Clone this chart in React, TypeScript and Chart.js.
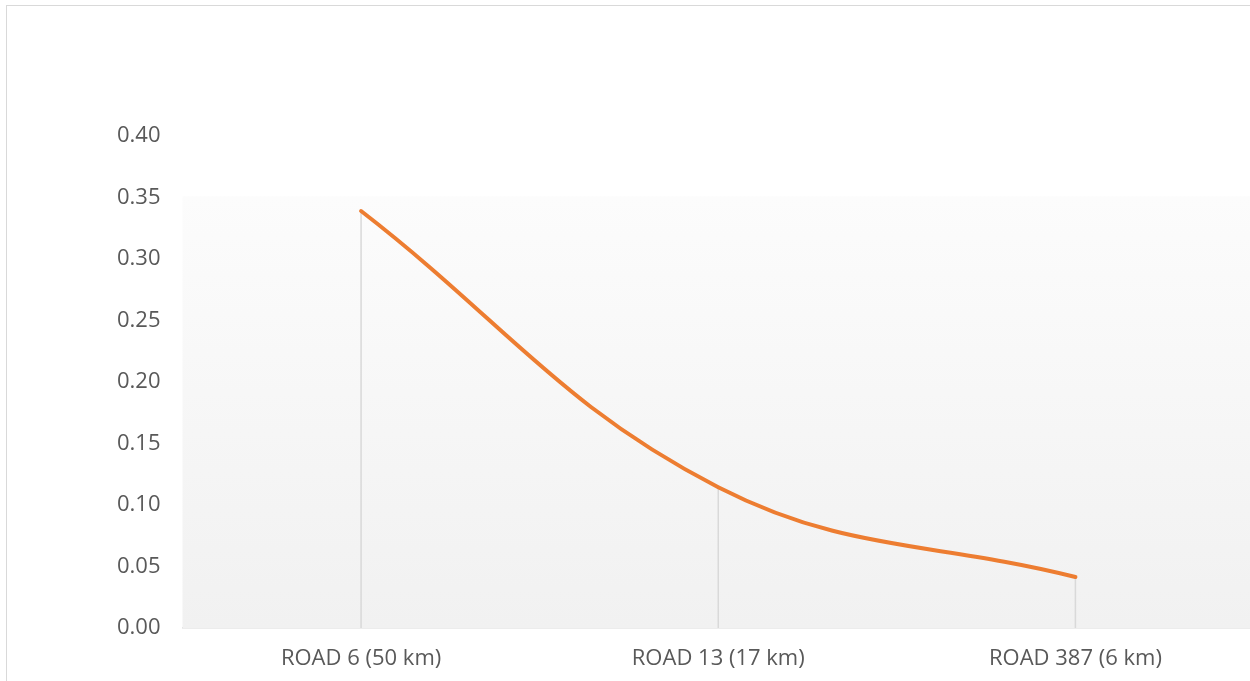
import React, { useEffect, useRef } from "react";
import { Chart, registerables } from "chart.js";

Chart.register(...registerables);

const categories: string[] = ["ROAD 6 (50 km)", "ROAD 13 (17 km)", "ROAD 387 (6 km)"];
const seriesValues: number[] = [0.339, 0.1145, 0.0415];
const yTickStep = 0.05;
const yMax = 0.4;

const dropLinesPlugin = {
  id: "dropLines",
  beforeDatasetsDraw(chart: any) {
    const { ctx, chartArea } = chart;
    const meta = chart.getDatasetMeta(0);
    const yScale = chart.scales.y;
    ctx.save();
    // plot area gradient
    const gTop = yScale.getPixelForValue(0.351);
    const grad = ctx.createLinearGradient(0, gTop, 0, chartArea.bottom);
    grad.addColorStop(0, "#fcfcfc");
    grad.addColorStop(1, "#f1f1f1");
    ctx.fillStyle = grad;
    ctx.fillRect(chartArea.left, gTop, chartArea.right - chartArea.left, chartArea.bottom - gTop);
    // drop lines
    ctx.strokeStyle = "#d9d9d9";
    ctx.lineWidth = 1.5;
    meta.data.forEach((pt: any) => {
      ctx.beginPath();
      ctx.moveTo(pt.x, pt.y);
      ctx.lineTo(pt.x, yScale.getPixelForValue(0));
      ctx.stroke();
    });
    ctx.restore();
  },
};

export default function App() {
  const canvasRef = useRef<HTMLCanvasElement | null>(null);

  useEffect(() => {
    if (!canvasRef.current) return;
    const chart = new Chart(canvasRef.current, {
      type: "line",
      data: {
        labels: categories,
        datasets: [
          {
            data: seriesValues,
            borderColor: "#ED7D31",
            borderWidth: 4,
            pointRadius: 0,
            tension: 0.4,
            fill: false,
            borderCapStyle: "round",
          },
        ],
      },
      options: {
        animation: false,
        responsive: false,
        maintainAspectRatio: false,
        layout: { padding: { left: 0, right: 16, top: 136, bottom: 0 } },
        plugins: { legend: { display: false }, tooltip: { enabled: false } },
        scales: {
          x: {
            offset: true,
            grid: { display: false, drawTicks: false },
            border: { display: true, color: "#d9d9d9", width: 1.5 },
            ticks: {
              color: "#595959",
              font: { family: "Open Sans", size: 22 },
              padding: 18,
              maxRotation: 0,
            },
            afterFit(scale: any) {
              scale.height = 53;
            },
          },
          y: {
            min: 0,
            max: yMax,
            grid: { display: false, drawTicks: false },
            border: { display: false },
            ticks: {
              stepSize: yTickStep,
              color: "#595959",
              font: { family: "Open Sans", size: 22 },
              padding: 22,
              callback: (v: any) => Number(v).toFixed(2),
            },
            afterFit(scale: any) {
              scale.width = 182.5;
            },
          },
        },
      },
      plugins: [dropLinesPlugin],
    });
    return () => chart.destroy();
  }, []);

  return (
    <div
      style={{
        position: "fixed",
        left: 0,
        top: 0,
        width: 1250,
        height: 681,
        overflow: "hidden",
        background: "#ffffff",
      }}
    >
      <div
        style={{
          position: "absolute",
          left: 6,
          top: 5,
          width: 1300,
          height: 720,
          border: "1.5px solid #d9d9d9",
          boxSizing: "border-box",
        }}
      />
      <canvas
        ref={canvasRef}
        width={1270}
        height={681}
        style={{ position: "absolute", left: 0, top: 0, width: 1270, height: 681 }}
      />
    </div>
  );
}
